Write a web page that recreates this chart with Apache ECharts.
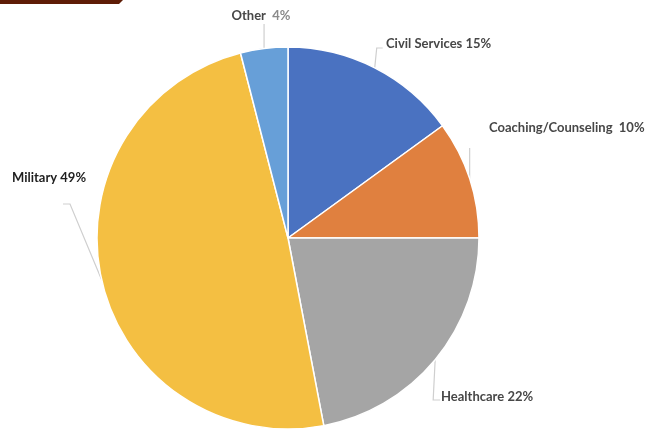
<!DOCTYPE html>
<html><head><meta charset="utf-8">
<script src="https://cdn.jsdelivr.net/npm/echarts@6/dist/echarts.min.js"></script>
<style>html,body{margin:0;padding:0;background:#fff}#c{width:650px;height:430px}</style>
</head><body><div id="c"></div>
<script>
const categories = ['Civil Services', 'Coaching/Counseling', 'Healthcare', 'Military', 'Other'];
const values = [15, 10, 22, 49, 4];
const colors = ['#4a72c1', '#e0803f', '#a5a5a5', '#f4bf42', '#679fd8'];

// label placement (style only)
const spots = [
  {x: 386, y: 44, align: 'left', bend: p => [[p[0] + 2, 48], [p[0] + 8, 48]]},
  {x: 489, y: 128, align: 'left', bend: p => [[p[0], 148]]},
  {x: 441, y: 397, align: 'left', bend: p => [[p[0] - 2, 400], [p[0] + 5, 400]]},
  {x: 49, y: 178, align: 'center', bend: p => [[70, 204], [63, 204]]},
  {x: 261, y: 16, align: 'center', bend: p => [[p[0], 24]]}
];

const chart = echarts.init(document.getElementById('c'));
chart.setOption({
  animation: false,
  graphic: [{
    type: 'polygon',
    shape: {points: [[0, 0], [123, 0], [119, 4], [0, 4]]},
    style: {fill: '#5e1c06'}
  }],
  series: [{
    type: 'pie',
    center: [288, 238],
    radius: 191,
    startAngle: 90,
    clockwise: true,
    data: categories.map((n, i) => ({name: n, value: values[i], itemStyle: {color: colors[i]}})),
    itemStyle: {borderColor: '#fff', borderWidth: 1.5},
    label: {
      show: true,
      position: 'outside',
      overflow: 'none',
      fontFamily: 'Lato',
      fontWeight: 'bold',
      fontSize: 13,
      color: '#474747',
      formatter: p => {
        if (p.dataIndex === 4) return '{b|' + p.name + '}  {v|' + p.value + '%}';
        if (p.dataIndex === 1) return '{b|' + p.name + '  ' + p.value + '%}';
        if (p.dataIndex === 3) return '{m|' + p.name + ' ' + p.value + '%}';
        return '{b|' + p.name + ' ' + p.value + '%}';
      },
      rich: {
        b: {fontFamily: 'Lato', fontWeight: 'bold', fontSize: 13, color: '#474747'},
        v: {fontFamily: 'Lato', fontWeight: 'bold', fontSize: 13, color: '#8a8a8a'},
        m: {fontFamily: 'Lato', fontWeight: 'bold', fontSize: 13, color: '#1f1f1f'}
      }
    },
    labelLine: {show: true, length: 10, length2: 5, lineStyle: {color: '#cfcfcf', width: 1.2}},
    labelLayout: params => {
      const s = spots[params.dataIndex];
      const p0 = params.labelLinePoints ? params.labelLinePoints[0] : [0, 0];
      return {
        x: s.x, y: s.y, align: s.align, verticalAlign: 'middle',
        labelLinePoints: [p0].concat(s.bend(p0))
      };
    }
  }]
});
</script></body></html>
